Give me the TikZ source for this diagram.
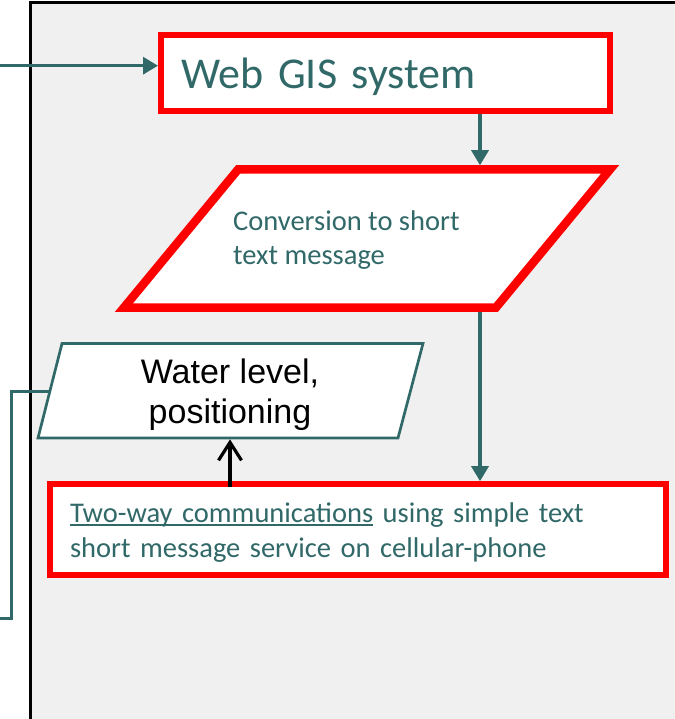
\documentclass[tikz,border=0pt]{standalone}
\usepackage{fontspec}
\setmainfont{Carlito}
\newfontfamily\arialfont{Liberation Sans}
\usetikzlibrary{arrows.meta}
\definecolor{flowteal}{RGB}{49,104,104}
\definecolor{panelgray}{RGB}{240,240,240}
\definecolor{boxred}{RGB}{255,0,0}
\newcommand\wordline[1]{\setbox0\hbox{#1}\rlap{\rule[-3.5pt]{\wd0}{1.6pt}}\box0\relax}

\begin{document}
\begin{tikzpicture}[x=1pt,y=-1pt,
	redbox/.style={draw=boxred,line width=6pt,fill=white},
	flow/.style={draw=flowteal,line width=3.2pt},
	tip/.style={-{Triangle[length=15pt,width=17pt]}},
	tealtext/.style={text=flowteal,font=\fontsize{28.5}{34.5}\selectfont}]
		\useasboundingbox (0,0) rectangle (674,719);
		\fill[panelgray] (30,2.5) rectangle (690,730);
		\draw[line width=3pt] (30,730) -- (30,2.5) -- (690,2.5);
		\node[redbox,minimum width=449pt,minimum height=76pt,text width=409pt,inner xsep=20pt,align=left,
			text height=40pt,text depth=9pt,text=flowteal,font=\fontsize{44}{53}\selectfont] (web) at (385.5,73) {Web GIS system};
		\draw[redbox,line width=8.5pt] (124,307.5)--(238,169.5)--(610,169.5)--(496,307.5)--cycle;
		\node[tealtext,align=left,anchor=base west,inner sep=0pt] (conv) at (233,264.5) {Conversion to short\\text message};
		\draw[draw=flowteal,line width=2.7pt,fill=white] (38,438)--(62,343.5)--(423,343.5)--(398,438)--cycle;
		\node[align=center,anchor=base,inner sep=0pt,font=\arialfont\fontsize{34}{40}\selectfont] (water) at (230,423) {Water level,\\positioning};
		\node[redbox,minimum width=616pt,minimum height=91pt,text width=576pt,inner xsep=20pt,align=left,tealtext]
			(two) at (358,529.7) {\rule{0pt}{25pt}\wordline{Two-way communications} using simple text\\short message service on cellular-phone};
		\coordinate (inlet) at (0,65.7);
		\coordinate (convtop) at (480,165.25);
		\coordinate (convbot) at (480,311.75);
		\coordinate (waterbot) at (230,439.4);
		\coordinate (waterleft) at (50,391);
		\coordinate (bend) at (11,391);
		\coordinate (outlet) at (0,618);
		\draw[flow,tip] (inlet) -- (inlet -| web.west);
		\draw[flow,tip] (convtop |- web.south) -- (convtop);
		\draw[flow,tip] (convbot) -- (convbot |- two.north);
		\draw[line width=3.2pt,-{Straight Barb[length=18pt,width=23pt]}] ([yshift=-6pt]waterbot |- two.north) -- (waterbot);
		\draw[flow,line width=3pt] (waterleft) -- (bend) |- (outlet);
\end{tikzpicture}
\end{document}
